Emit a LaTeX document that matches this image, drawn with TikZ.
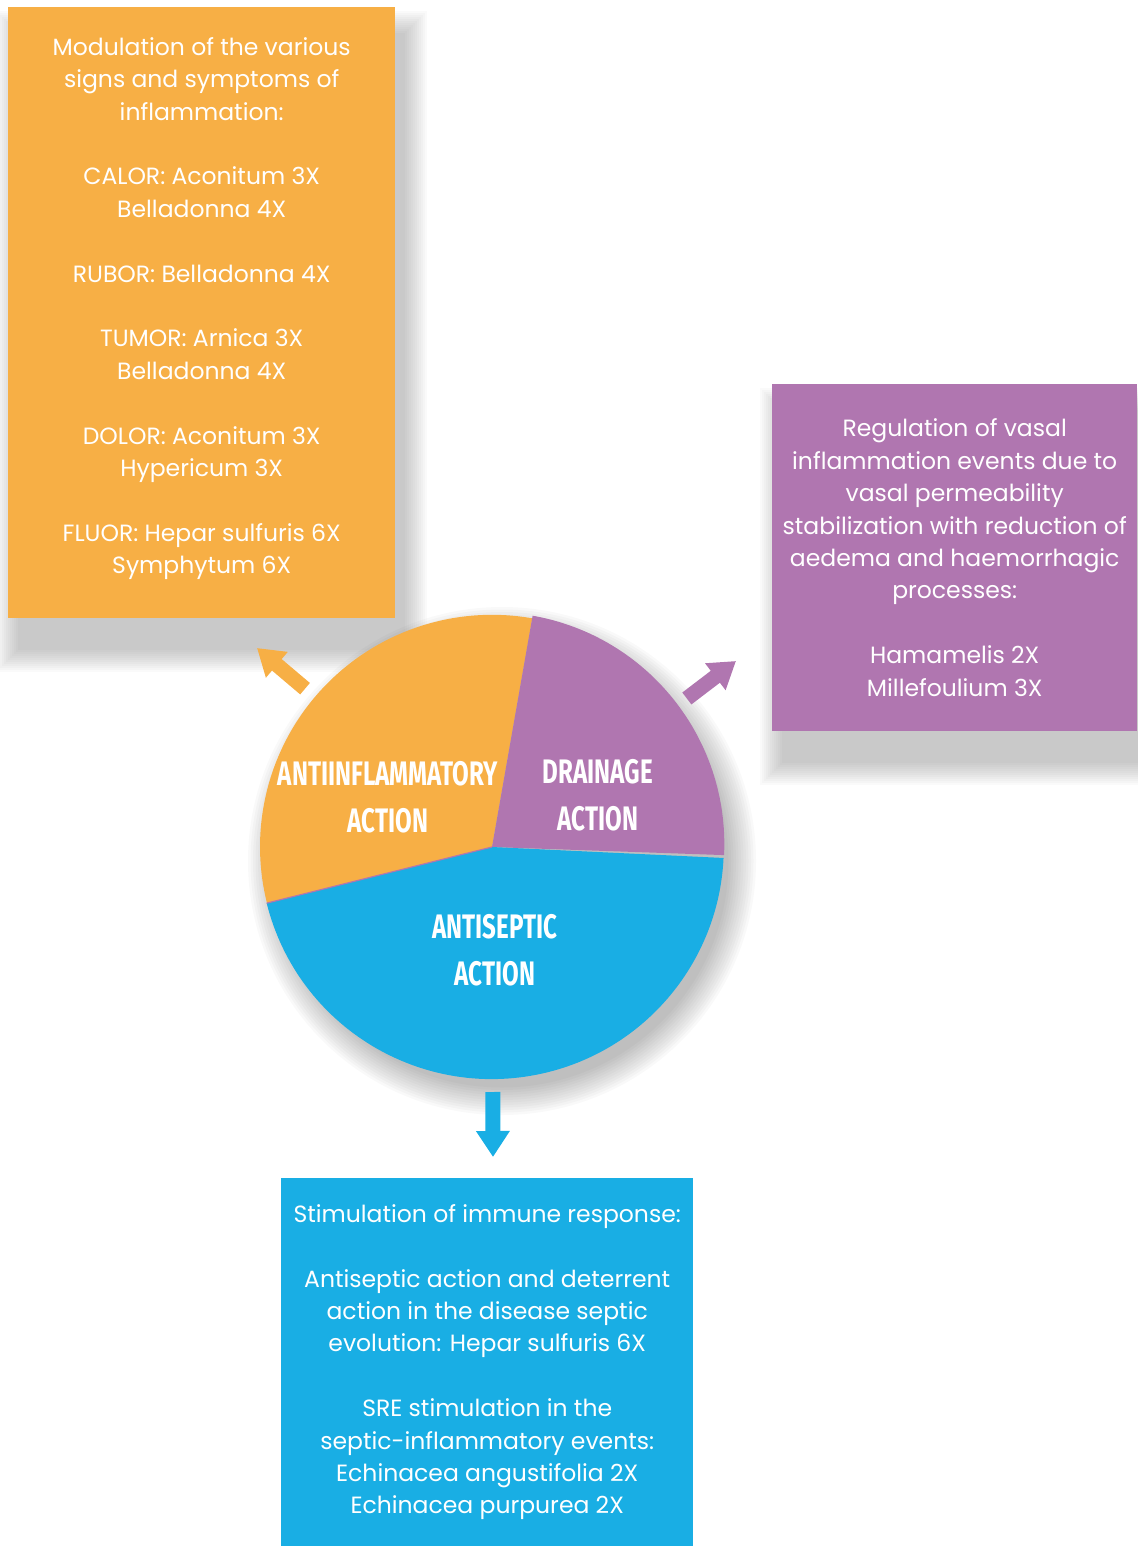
\documentclass[tikz,border=0pt]{standalone}
\usepackage{fontspec}
\setmainfont{Poppins}
\newfontfamily\piefont{Fira Sans}[FakeStretch=0.71]
\usetikzlibrary{arrows.meta,calc,positioning,backgrounds}

\definecolor{inflamorange}{RGB}{247,175,69}
\definecolor{drainpurple}{RGB}{176,118,176}
\definecolor{septblue}{RGB}{25,174,228}

\tikzset{
  infobox/.style={anchor=north west, inner sep=0pt, align=center, text=white,
    font=\fontsize{23.5}{32.4}\selectfont},
  pielabel/.style={text=white, align=center, font=\piefont\bfseries\fontsize{34}{47}\selectfont},
  actarrow/.style={line width=15pt, shorten <=245pt, -{Triangle[length=26pt,width=32pt]}},
}

\begin{document}
\begin{tikzpicture}[x=1pt,y=1pt]
    \useasboundingbox (0,0) rectangle (1137,-1546);

    % boxes
    \node[infobox, fill=inflamorange, minimum width=387pt, minimum height=611pt] (inflam) at (8,-7)
      {Modulation of the various\\ signs and symptoms of\\ inflammation:\\[32.4pt]
       CALOR: Aconitum 3X\\ Belladonna 4X\\[32.4pt]
       RUBOR: Belladonna 4X\\[32.4pt]
       TUMOR: Arnica 3X\\ Belladonna 4X\\[32.4pt]
       DOLOR: Aconitum 3X\\ Hypericum 3X\\[32.4pt]
       FLUOR: Hepar sulfuris 6X\\ Symphytum 6X\\[-18pt]\mbox{}};
    \node[infobox, fill=drainpurple, minimum width=365pt, minimum height=347pt] (drain) at (772,-384)
      {Regulation of vasal\\ inflammation events due to\\ vasal permeability\\
       stabilization with reduction of\\ aedema and haemorrhagic\\ processes:\\[32.4pt]
       Hamamelis 2X\\ Millefoulium 3X};
    \node[infobox, fill=septblue, minimum width=412pt, minimum height=368pt] (sept) at (281,-1178)
      {Stimulation of immune response:\\[32.4pt]
       Antiseptic action and deterrent\\ action in the disease septic\\ evolution: Hepar sulfuris 6X\\[32.4pt]
       SRE stimulation in the\\ septic-inflammatory events:\\ Echinacea angustifolia 2X\\ Echinacea purpurea 2X};

    % pie
    \node[circle, minimum size=464pt, inner sep=0pt] (pie) at (492,-847) {};
    \fill[inflamorange] (pie.center) -- (pie.80) arc[start angle=80, end angle=194, radius=232pt] -- cycle;
    \fill[drainpurple] (pie.center) -- (pie.-2.7) arc[start angle=-2.7, end angle=80, radius=232pt] -- cycle;
    \fill[septblue] (pie.center) -- (pie.194) arc[start angle=194, end angle=357.3, radius=232pt] -- cycle;
    \draw[drainpurple, line width=1.2pt] (pie.center) -- (pie.194);

    \node[pielabel] (inflamlbl) at (388,-797) {ANTIINFLAMMATORY\\ ACTION};
    \node[pielabel] (drainlbl) at (598,-795) {DRAINAGE\\ ACTION};
    \node[pielabel] (septlbl) at (495,-950) {ANTISEPTIC\\ ACTION};

    % soft shadows
    \begin{scope}[on background layer]
      \foreach \i in {1,...,12} {
        \fill[black, opacity=0.022] ($(pie.center)+(10,-14)$) circle ({224+2.5*\i});
        \fill[black, opacity=0.018] ($(inflam.north west)+(12-2*\i,-28+2*\i)$) rectangle ($(inflam.south east)+(8+2*\i,-30-2*\i)$);
        \fill[black, opacity=0.018] ($(drain.north west)+(12-2*\i,-28+2*\i)$) rectangle ($(drain.south east)+(8+2*\i,-30-2*\i)$);
      }
    \end{scope}

    % arrows
    \coordinate (inflamtip) at (257,-648);
    \coordinate (draintip) at (736,-661);
    \coordinate (septtip) at (493,-1157);
    \draw[actarrow, inflamorange] (pie.center) -- (inflamtip);
    \draw[actarrow, drainpurple] (pie.center) -- (draintip);
    \draw[actarrow, septblue] (pie.center) -- (septtip);
\end{tikzpicture}
\end{document}
